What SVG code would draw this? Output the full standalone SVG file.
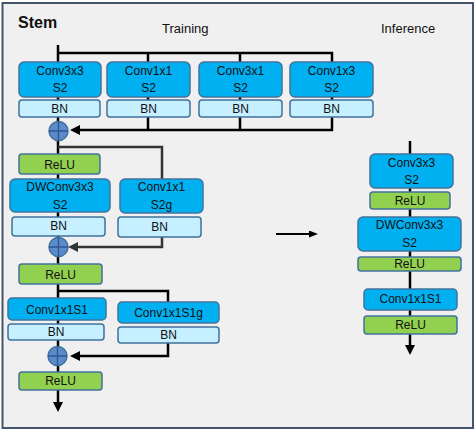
<svg xmlns="http://www.w3.org/2000/svg" width="475" height="432" viewBox="0 0 475 432">
<defs>
<marker id="ah" markerUnits="userSpaceOnUse" markerWidth="12" markerHeight="12" refX="0" refY="5" orient="auto"><path d="M0,0 L10,5 L0,10 z" fill="#000"/></marker>
<marker id="ahg" markerUnits="userSpaceOnUse" markerWidth="12" markerHeight="12" refX="0" refY="5" orient="auto"><path d="M0,0 L10,5 L0,10 z" fill="#333"/></marker>
<marker id="ahs" markerUnits="userSpaceOnUse" markerWidth="10" markerHeight="8" refX="0" refY="3.5" orient="auto"><path d="M0,0 L9,3.5 L0,7 z" fill="#000"/></marker>
<style>
.conv{fill:#00b0f0;stroke:#41719c;stroke-width:1.5}
.bn{fill:#c6efff;stroke:#41719c;stroke-width:1.5}
.relu{fill:#92d050;stroke:#41719c;stroke-width:1.5}
.add{fill:#5b8bc9;stroke:#41719c;stroke-width:1.5}
.cross{stroke:#2f5597;stroke-width:1.3}
text{font-family:"Liberation Sans",Arial,sans-serif;font-size:12px;fill:#111;text-anchor:middle}
.title{font-weight:bold;font-size:16px;text-anchor:start}
.hdr{font-size:13px;text-anchor:start}
.c{fill:none;stroke:#000;stroke-width:2.5}
.cg{fill:none;stroke:#333;stroke-width:2.5}
</style>
</defs>
<rect x="2.5" y="3" width="470.5" height="425" fill="#f0f0f0" stroke="#44546a" stroke-width="2"/>
<text class="title" x="18" y="28">Stem</text>
<text class="hdr" x="162" y="33">Training</text>
<text class="hdr" x="381" y="33">Inference</text>
<g id="connectors">
<path class="c" d="M58,45 V122"/>
<path class="c" d="M58,53 H332 V117"/>
<path class="c" d="M148,53 V130"/>
<path class="c" d="M240,53 V130"/>
<path class="c" d="M332,117 V130 H80" marker-end="url(#ah)"/>
<path class="c" d="M58,140 V238"/>
<path class="cg" d="M58,147 H162 V180"/>
<path class="cg" d="M162,236 V247 H78" marker-end="url(#ahg)"/>
<path class="c" d="M58,256 V347"/>
<path class="c" d="M58,291 H168 V303"/>
<path class="c" d="M168,342 V356 H80" marker-end="url(#ah)"/>
<path class="c" d="M58,365 V402" marker-end="url(#ah)"/>
<path class="c" d="M410,141 V345" marker-end="url(#ah)"/>
<path fill="none" stroke="#000" stroke-width="1.8" d="M276,234 H309" marker-end="url(#ahs)"/>
</g>
<g id="t-conv3x3"><rect class="conv" x="19" y="62" width="82" height="35" rx="5"/><text x="60" y="75">Conv3x3</text><text x="60" y="92">S2</text></g>
<g id="t-bn1"><rect class="bn" x="19" y="100" width="81" height="17" rx="3"/><text x="59.5" y="113">BN</text></g>
<g id="t-conv1x1"><rect class="conv" x="107" y="62" width="83" height="35" rx="5"/><text x="148.5" y="75">Conv1x1</text><text x="148.5" y="92">S2</text></g>
<g id="t-bn2"><rect class="bn" x="107" y="100" width="83" height="17" rx="3"/><text x="148.5" y="113">BN</text></g>
<g id="t-conv3x1"><rect class="conv" x="199" y="62" width="83" height="35" rx="5"/><text x="240.5" y="75">Conv3x1</text><text x="240.5" y="92">S2</text></g>
<g id="t-bn3"><rect class="bn" x="199" y="100" width="83" height="17" rx="3"/><text x="240.5" y="113">BN</text></g>
<g id="t-conv1x3"><rect class="conv" x="290" y="62" width="83" height="35" rx="5"/><text x="331.5" y="75">Conv1x3</text><text x="331.5" y="92">S2</text></g>
<g id="t-bn4"><rect class="bn" x="290" y="100" width="83" height="17" rx="3"/><text x="331.5" y="113">BN</text></g>
<g id="t-add1"><circle class="add" cx="58.5" cy="131" r="9.5"/><path class="cross" d="M49,131 H68 M58.5,121.5 V140.5"/></g>
<g id="t-relu1"><rect class="relu" x="19" y="154" width="81" height="20" rx="3"/><text x="59.5" y="169">ReLU</text></g>
<g id="t-dwconv"><rect class="conv" x="10" y="179" width="100" height="33" rx="5"/><text x="60" y="191">DWConv3x3</text><text x="60" y="209">S2</text></g>
<g id="t-bn5"><rect class="bn" x="12" y="217" width="93" height="19" rx="3"/><text x="58.5" y="230">BN</text></g>
<g id="t-conv1x1g"><rect class="conv" x="120" y="179" width="83" height="34" rx="5"/><text x="161.5" y="191">Conv1x1</text><text x="161.5" y="209">S2g</text></g>
<g id="t-bn6"><rect class="bn" x="118" y="217" width="83" height="20" rx="3"/><text x="159.5" y="231">BN</text></g>
<g id="t-add2"><circle class="add" cx="58.5" cy="247" r="9.5"/><path class="cross" d="M49,247 H68 M58.5,237.5 V256.5"/></g>
<g id="t-relu2"><rect class="relu" x="19" y="264" width="83" height="20" rx="3"/><text x="60.5" y="279">ReLU</text></g>
<g id="t-conv1x1s1"><rect class="conv" x="8" y="298" width="98" height="22" rx="4"/><text x="57" y="314">Conv1x1S1</text></g>
<g id="t-bn7"><rect class="bn" x="8" y="324" width="96" height="16" rx="3"/><text x="56" y="336">BN</text></g>
<g id="t-conv1x1s1g"><rect class="conv" x="118" y="302" width="101" height="21" rx="4"/><text x="168.5" y="317">Conv1x1S1g</text></g>
<g id="t-bn8"><rect class="bn" x="118" y="327" width="101" height="16" rx="3"/><text x="168.5" y="339">BN</text></g>
<g id="t-add3"><circle class="add" cx="57.5" cy="356" r="9.5"/><path class="cross" d="M48,356 H67 M57.5,346.5 V365.5"/></g>
<g id="t-relu3"><rect class="relu" x="19" y="372" width="83" height="18" rx="3"/><text x="60.5" y="385">ReLU</text></g>
<g id="i-conv3x3"><rect class="conv" x="370" y="154" width="83" height="34" rx="5"/><text x="411.5" y="167">Conv3x3</text><text x="411.5" y="184">S2</text></g>
<g id="i-relu1"><rect class="relu" x="370" y="192" width="80" height="17" rx="3"/><text x="410" y="205">ReLU</text></g>
<g id="i-dwconv"><rect class="conv" x="358" y="217" width="103" height="34" rx="5"/><text x="409.5" y="229">DWConv3x3</text><text x="409.5" y="247">S2</text></g>
<g id="i-relu2"><rect class="relu" x="358" y="257" width="103" height="14" rx="3"/><text x="409.5" y="268">ReLU</text></g>
<g id="i-conv1x1s1"><rect class="conv" x="364" y="289" width="93" height="21" rx="4"/><text x="410.5" y="303">Conv1x1S1</text></g>
<g id="i-relu3"><rect class="relu" x="364" y="316" width="93" height="18" rx="3"/><text x="410.5" y="329">ReLU</text></g>
</svg>
